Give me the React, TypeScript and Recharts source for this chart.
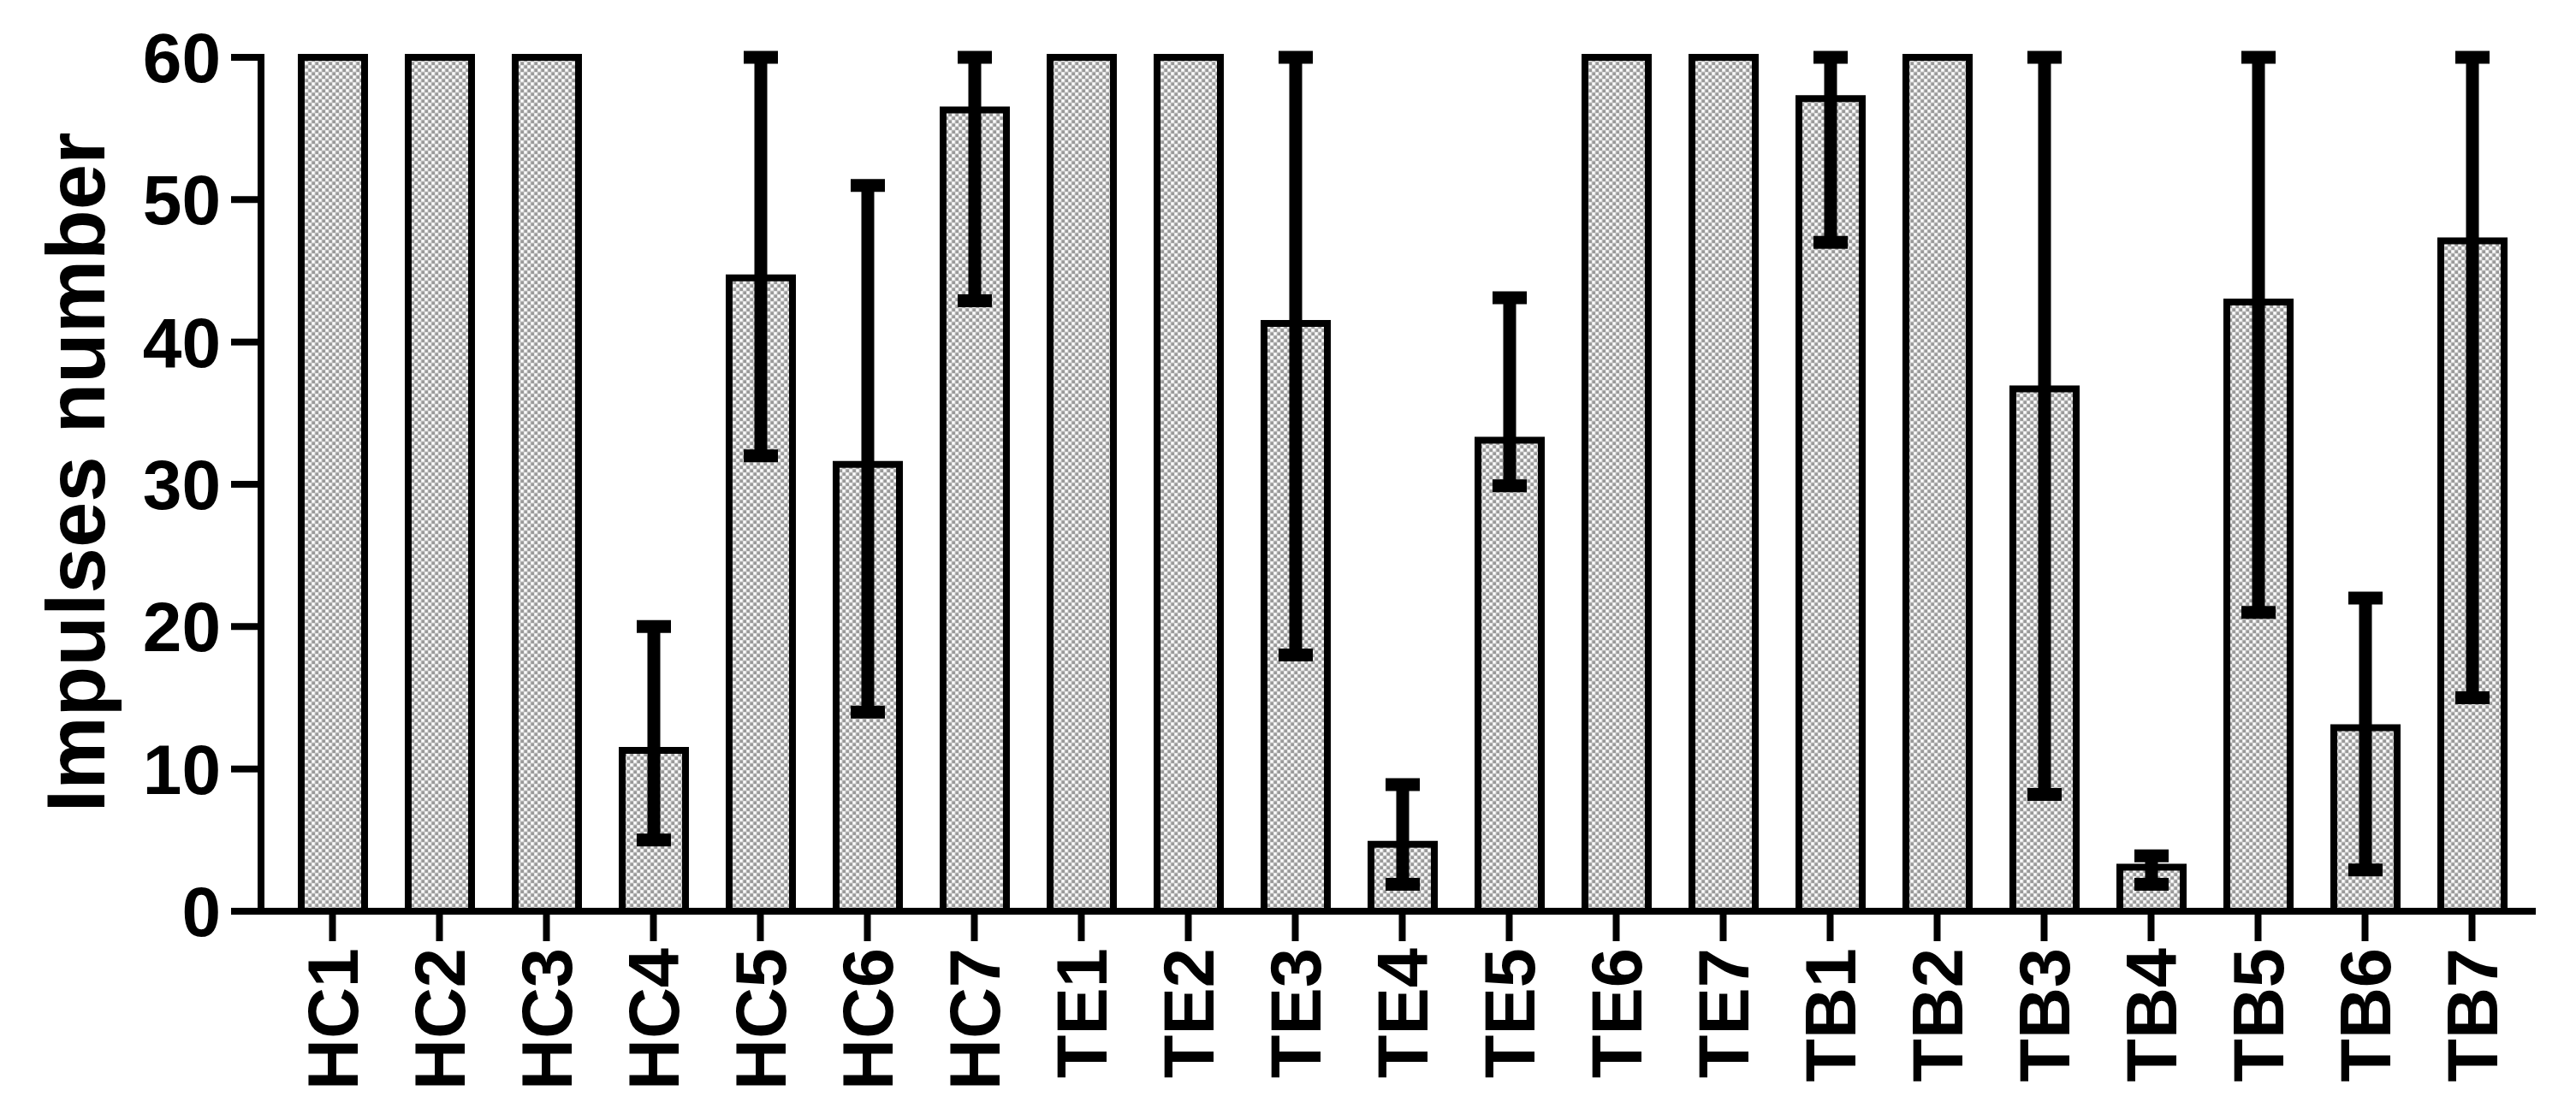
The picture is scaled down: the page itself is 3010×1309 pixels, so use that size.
import React from 'react';
import { BarChart, Bar, XAxis, YAxis, ErrorBar } from 'recharts';

const CATEGORIES = [
  'HC1', 'HC2', 'HC3', 'HC4', 'HC5', 'HC6', 'HC7',
  'TE1', 'TE2', 'TE3', 'TE4', 'TE5', 'TE6', 'TE7',
  'TB1', 'TB2', 'TB3', 'TB4', 'TB5', 'TB6', 'TB7',
];

// bar heights (impulses number)
const VALUES = [
  60, 60, 60, 11.3, 44.5, 31.4, 56.3,
  60, 60, 41.3, 4.7, 33.1, 60, 60,
  57.1, 60, 36.7, 3.1, 42.8, 12.9, 47.1,
];

// whisker ends, null where no error bar is drawn
const LOWS = [
  null, null, null, 5, 32, 14, 42.9,
  null, null, 18, 1.9, 29.9, null, null,
  47, null, 8.2, 1.9, 21, 2.9, 15,
];
const HIGHS = [
  null, null, null, 20, 60, 51, 60,
  null, null, 60, 8.9, 43.1, null, null,
  60, null, 60, 3.9, 60, 22, 60,
];

const Y_TICKS = [0, 10, 20, 30, 40, 50, 60];

const data = CATEGORIES.map((name, i) => {
  const v = VALUES[i];
  const lo = LOWS[i];
  const hi = HIGHS[i];
  return {
    name,
    value: v,
    err: lo == null || hi == null ? null : [v - lo, hi - v],
  };
});

const FONT = '"Liberation Sans", Arial, sans-serif';

// rotated category labels, reading bottom to top
const XTick = (props: any) => {
  const { x, y, payload } = props;
  return (
    <text
      x={x}
      y={y}
      dy="0.36em"
      transform={`rotate(-90 ${x} ${y})`}
      textAnchor="end"
      fill="#000"
      fontSize={83}
      fontWeight={700}
      fontFamily={FONT}
    >
      {payload.value}
    </text>
  );
};

const YTitle = (props: any) => {
  const vb = props.viewBox ?? { x: 0, y: 67, width: 305, height: 998 };
  const cx = 122;
  const cy = vb.y + vb.height / 2 - 14;
  return (
    <text
      x={cx}
      y={cy}
      transform={`rotate(-90 ${cx} ${cy})`}
      textAnchor="middle"
      fill="#000"
      fontSize={96}
      fontWeight={700}
      fontFamily={FONT}
    >
      Impulses number
    </text>
  );
};

const App: React.FC = () => {
  return (
    <div style={{ position: 'absolute', left: 0, top: 0, width: 3010, height: 1309, background: '#fff', fontFamily: FONT }}>
      <BarChart
        width={3010}
        height={1309}
        data={data}
        margin={{ top: 67, right: 51, left: 0, bottom: 0 }}
        barSize={74}
      >
        <defs>
          <pattern id="dots" width="8" height="8" patternUnits="userSpaceOnUse">
            <rect x="0" y="0" width="8" height="8" fill="#cfcfcf" />
            <rect x="0.5" y="0.5" width="3.5" height="3.5" fill="#999" />
            <rect x="4.5" y="4.5" width="3.5" height="3.5" fill="#999" />
            <rect x="4.5" y="0.5" width="3" height="3" fill="#fff" />
            <rect x="0.5" y="4.5" width="3" height="3" fill="#fff" />
          </pattern>
        </defs>
        <XAxis
          dataKey="name"
          height={244}
          interval={0}
          padding={{ left: 21, right: 8 }}
          axisLine={{ stroke: '#000', strokeWidth: 8, strokeLinecap: 'square' }}
          tickLine={{ stroke: '#000', strokeWidth: 8 }}
          tickSize={35}
          tickMargin={8}
          tick={<XTick />}
        />
        <YAxis
          width={305}
          domain={[0, 60]}
          ticks={Y_TICKS}
          interval={0}
          axisLine={{ stroke: '#000', strokeWidth: 8, strokeLinecap: 'square' }}
          tickLine={{ stroke: '#000', strokeWidth: 8 }}
          tickSize={35}
          tickMargin={12}
          tick={{ fill: '#000', fontSize: 82, fontWeight: 700, fontFamily: FONT }}
          label={YTitle}
        />
        <Bar dataKey="value" fill="url(#dots)" stroke="#000" strokeWidth={8} isAnimationActive={false}>
          <ErrorBar dataKey="err" direction="y" width={20} stroke="#000" strokeWidth={15} isAnimationActive={false} />
        </Bar>
      </BarChart>
    </div>
  );
};

export default App;
